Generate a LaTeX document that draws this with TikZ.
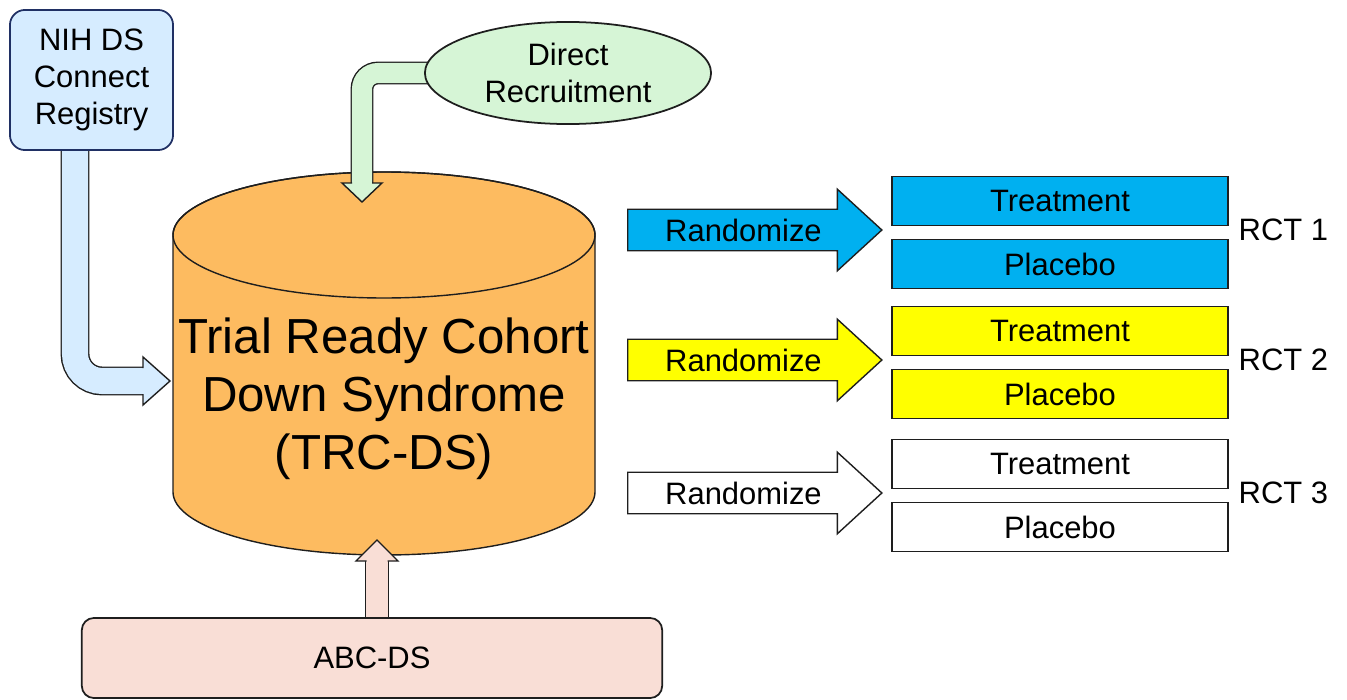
\documentclass[tikz,border=0pt]{standalone}
\usepackage{fontspec}
\setmainfont{Liberation Sans}
\usetikzlibrary{shapes.geometric,shapes.arrows,backgrounds,calc}

\definecolor{edge}{RGB}{30,30,30}
\definecolor{nihblue}{RGB}{214,236,255}
\definecolor{nihedge}{RGB}{32,48,100}
\definecolor{recgreen}{RGB}{214,245,214}
\definecolor{trcorange}{RGB}{253,187,96}
\definecolor{abcpink}{RGB}{249,222,214}
\definecolor{rctblue}{RGB}{0,176,240}
\definecolor{rctyellow}{RGB}{255,255,0}

\tikzset{
  smalltxt/.style={font=\fontsize{8.8}{10.5}\selectfont, align=center},
  bigtxt/.style={font=\fontsize{14}{16.5}\selectfont, align=center},
  srcbox/.style={smalltxt, draw=edge, rounded corners=1.5mm, inner sep=0pt},
  armbox/.style={smalltxt, draw=edge, minimum width=33.6mm, minimum height=4.9mm, inner sep=0pt},
  randarrow/.style={smalltxt, single arrow, draw=edge, minimum height=25.4mm,
    single arrow head extend=2mm, single arrow tip angle=85,
    inner xsep=1mm, inner ysep=0pt, text height=3.1mm, text depth=0.9mm},
  fatshaft/.style={draw=edge, double distance=#1, line cap=butt},
  fathead/.style={draw=edge, line join=miter}
}

\begin{document}
\begin{tikzpicture}[x=0.01cm, y=-0.01cm, line width=0.5pt]
  \useasboundingbox (0,0) rectangle (1347,700);

  % sources
  \node[srcbox, fill=nihblue, draw=nihedge, minimum width=16.3mm, minimum height=14mm] (nih) at (91.5,80) {NIH DS\\Connect\\Registry};
  \node[smalltxt, ellipse, draw=edge, fill=recgreen, minimum width=28.6mm, minimum height=10.2mm, inner sep=0pt] (dr) at (568,73) {Direct\\Recruitment};
  \node[srcbox, fill=abcpink, minimum width=58mm, minimum height=8mm, rounded corners=1.2mm] (abc) at (372,658) {ABC-DS};

  % cohort
  \coordinate (trcwest) at (170,381);
  \coordinate (trcnorth) at (362,202);
  \coordinate (trcsouth) at (377,540);
  \node[bigtxt] (trc) at (384,399) {Trial Ready Cohort\\Down Syndrome\\(TRC-DS)};

  \begin{pgfonlayer}{background}
    \filldraw[draw=edge, fill=trcorange] (173,235) -- (173,492)
      arc[start angle=180, end angle=0, x radius=211, y radius=63] -- (595,235)
      arc[start angle=0, end angle=-180, x radius=211, y radius=63] -- cycle;
    \draw[edge] (384,235) ellipse [x radius=211, y radius=63];

    % registry -> cohort
    \draw[fatshaft=2.6mm, double=nihblue, rounded corners=2.7mm] ([shift={(-16.5,0)}]nih.south) |- ([shift={(-25,0)}]trcwest);
    \filldraw[fathead, fill=nihblue] ([shift={(-27,13)}]trcwest) -- ++(0,11) -- (trcwest) -- ++(-27,-24) -- ++(0,11);
    % recruitment -> cohort
    \draw[fatshaft=2mm, double=recgreen, rounded corners=1.6mm] ([shift={(10,0)}]dr.west) -| ([shift={(0,-17)}]trcnorth);
    \filldraw[fathead, fill=recgreen] ([shift={(-10,-19)}]trcnorth) -- ++(-10,0) -- (trcnorth) -- ++(20,-19) -- ++(-10,0);
    % abc -> cohort
    \draw[fatshaft=2.1mm, double=abcpink] ([shift={(5,0)}]abc.north) -- ([shift={(0,19)}]trcsouth);
    \filldraw[fathead, fill=abcpink] ([shift={(-10.5,21)}]trcsouth) -- ++(-10.5,0) -- (trcsouth) -- ++(21,21) -- ++(-10.5,0);
  \end{pgfonlayer}

  % trials
  \foreach \y/\c/\n in {230/rctblue/1, 360/rctyellow/2, 493/white/3}{
    \node[randarrow, fill=\c, anchor=tail] (rand\n) at (627,\y) {Randomize};
    \node[armbox, fill=\c] (treat\n) at (1060,\y-29) {Treatment};
    \node[armbox, fill=\c] (plac\n) at (1060,\y+34) {Placebo};
    \node[smalltxt, anchor=west, inner sep=0pt] (rct\n) at (1238,\y) {RCT \n};
  }
\end{tikzpicture}
\end{document}
